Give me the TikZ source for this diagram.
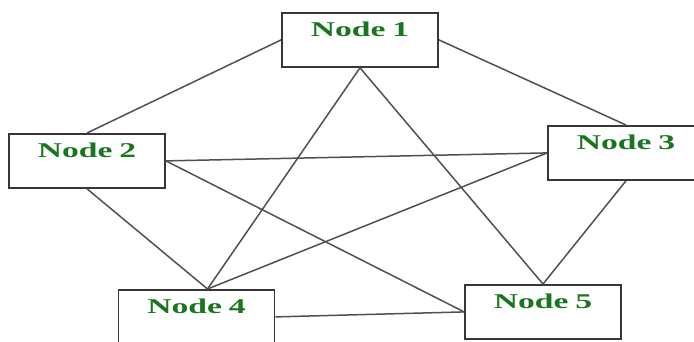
\documentclass[tikz,border=0pt]{standalone}
\usepackage{fontspec}
\newfontfamily\labelfont[FakeStretch=1.6]{Liberation Serif}

\definecolor{nodegreen}{RGB}{25,118,30}
\definecolor{wire}{RGB}{80,80,80}
\definecolor{frame}{RGB}{55,55,55}

\begin{document}
\begin{tikzpicture}[x=1pt, y=-1pt,
	box/.style={draw=frame, line width=1.8pt, fill=white, anchor=north, text width=156pt, align=center, inner sep=0pt, text height=24pt, text depth=30pt, text=nodegreen, font=\labelfont\bfseries\fontsize{21}{21}\selectfont},
	link/.style={draw=wire, line width=1.5pt}]
	\useasboundingbox (0,0) rectangle (694,341);

	\node[box] (n1) at (360,12) {Node 1};
	\node[box] (n2) at (87,133) {Node 2};
	\node[box] (n3) at (626,125) {Node 3};
	\node[box] (n4) at (196.5,289) {Node 4};
	\node[box] (n5) at (543,284) {Node 5};

	\coordinate (t4) at ([xshift=11pt]n4.north);

	\draw[link] (n1.west) -- (n2.north);
	\draw[link] (n1.east) -- (n3.north);
	\draw[link] (n1.south) -- (t4);
	\draw[link] (n1.south) -- (n5.north);
	\draw[link] (n2.east) -- (n3.west);
	\draw[link] (n2.south) -- (t4);
	\draw[link] (n2.east) -- (n5.west);
	\draw[link] (n3.west) -- (t4);
	\draw[link] (n3.south) -- (n5.north);
	\draw[link] (n4.east) -- (n5.west);
\end{tikzpicture}
\end{document}
